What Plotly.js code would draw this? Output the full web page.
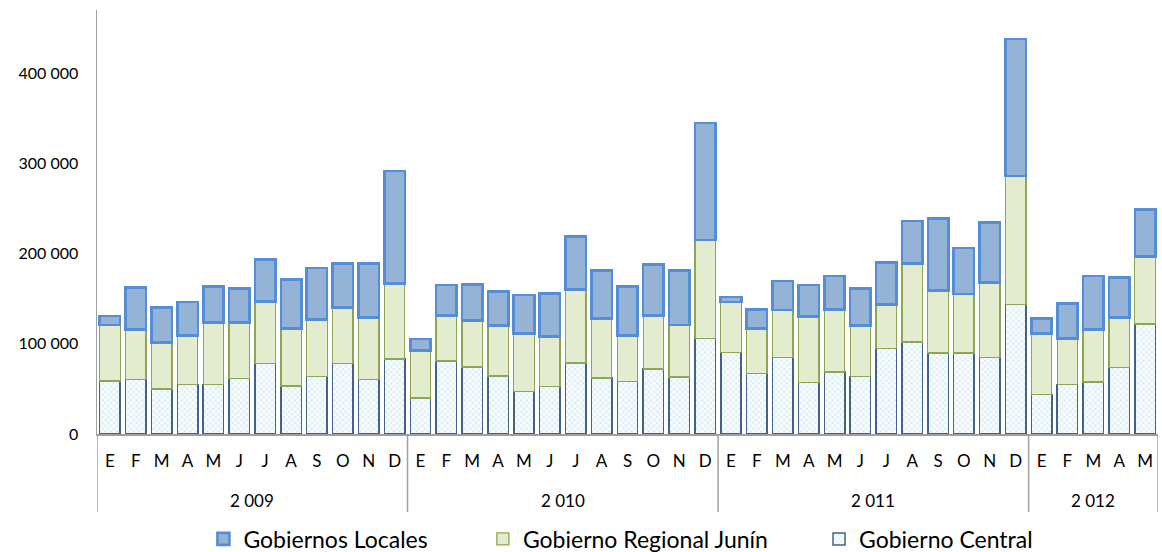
<!DOCTYPE html>
<html>
<head>
<meta charset="utf-8">
<script src="https://cdn.plot.ly/plotly-3.0.1.min.js"></script>
<style>html,body{margin:0;padding:0;background:#fff;}#chart{width:1162px;height:552px;}</style>
</head>
<body>
<div id="chart"></div>
<script>
// ---- data ----
const yearLabels = ['2 009', '2 010', '2 011', '2 012'];
const yearCounts = [12, 12, 12, 5];
const monthLetters = ['E','F','M','A','M','J','J','A','S','O','N','D'];

const gobiernoCentral = [
  58700, 60600, 49900, 55000, 55000, 61300, 78300, 53200, 63500, 78300, 60600, 83100,
  39900, 80900, 74200, 64300, 47300, 52800, 78700, 62100, 58000, 72000, 63200, 105600,
  90500, 67200, 84600, 57300, 68700, 63900, 95000, 101900, 89800, 89800, 84600, 143700,
  44000, 55000, 57600, 73500, 121900
];
const gobiernoRegional = [
  62100, 55000, 51300, 54300, 68700, 62000, 68300, 63900, 63200, 62100, 68300, 83900,
  52400, 50600, 51400, 55700, 64300, 55000, 81600, 66100, 51300, 59500, 57600, 109400,
  55800, 49900, 52800, 73100, 69500, 56500, 48700, 87200, 69000, 65300, 83500, 142200,
  67600, 51000, 58400, 55400, 74600
];
const gobiernosLocales = [
  9900, 46500, 39200, 37000, 39500, 38100, 46600, 54300, 57200, 48700, 59800, 124400,
  13000, 33600, 40300, 37700, 42400, 48100, 58300, 52800, 53900, 56100, 60200, 129600,
  5500, 21100, 32100, 34700, 36900, 41000, 46500, 46900, 80200, 51000, 66500, 151800,
  16600, 38800, 59100, 44700, 52500
];

// ---- categories (unique keys, month letters as tick text) ----
const keys = [], ticks = [];
yearCounts.forEach((n, yi) => {
  for (let m = 0; m < n; m++) { keys.push(yearLabels[yi] + '-' + (m + 1)); ticks.push(monthLetters[m]); }
});

const font = 'Lato, Open Sans, sans-serif';
const traces = [
  {
    type: 'bar', name: 'Gobierno Central', x: keys, y: gobiernoCentral, legend: 'legend3',
    marker: {
      color: '#ffffff',
      pattern: { shape: 'x', fgcolor: '#BBDCEB', bgcolor: '#FAFDFE', size: 4, solidity: 0.25 },
      line: { color: '#45618A', width: 1.5 }
    },
    hoverinfo: 'y+name'
  },
  {
    type: 'bar', name: 'Gobierno Regional Junín', x: keys, y: gobiernoRegional, legend: 'legend2',
    marker: { color: '#E4ECD0', line: { color: '#8CA653', width: 1.3 } },
    hoverinfo: 'y+name'
  },
  {
    type: 'bar', name: 'Gobiernos Locales', x: keys, y: gobiernosLocales, legend: 'legend',
    marker: { color: '#95B3D7', line: { color: '#558ED5', width: 2.6 } },
    hoverinfo: 'y+name'
  }
];

// year labels + dividers
const annotations = [], shapes = [];
let start = 0;
shapes.push({ type: 'line', xref: 'x', yref: 'paper', x0: -0.5, x1: -0.5, y0: 0, y1: -0.184, line: { color: '#A0A0A0', width: 1.5 } });
yearCounts.forEach((n, yi) => {
  const end = start + n - 1;
  annotations.push({ xref: 'x', yref: 'paper', x: (start + end) / 2, y: -0.156, text: yearLabels[yi],
    showarrow: false, xanchor: 'center', yanchor: 'middle', font: { family: font, size: 17, color: '#000' } });
  shapes.push({ type: 'line', xref: 'x', yref: 'paper', x0: end + 0.5, x1: end + 0.5, y0: 0, y1: -0.184, line: { color: '#A0A0A0', width: 1.5 } });
  start += n;
});

function leg(x) {
  return { orientation: 'h', x: x, xanchor: 'left', y: -0.2475, yanchor: 'middle',
    font: { family: font, size: 23, color: '#000' }, itemclick: false, bgcolor: 'rgba(0,0,0,0)' };
}

const layout = {
  width: 1162, height: 552,
  margin: { l: 97, r: 4, t: 10, b: 118, autoexpand: false },
  paper_bgcolor: '#fff', plot_bgcolor: '#fff',
  barmode: 'stack', bargap: 0.21,
  separators: '. ',
  font: { family: font, size: 17, color: '#000' },
  showlegend: true,
  legend: leg(0.1003),
  legend2: leg(0.3637),
  legend3: leg(0.6805),
  xaxis: {
    type: 'category', tickvals: keys, ticktext: ticks,
    range: [-0.5, keys.length - 0.5],
    showline: true, linecolor: '#A0A0A0', linewidth: 1.5,
    ticks: '', showgrid: false, zeroline: false,
    ticklabelstandoff: 11,
    tickfont: { family: font, size: 17, color: '#000' }
  },
  yaxis: {
    range: [0, 470000], tickvals: [0, 100000, 200000, 300000, 400000],
    tickformat: ',d',
    showline: true, linecolor: '#A0A0A0', linewidth: 1.5,
    ticks: '', showgrid: false, zeroline: false,
    ticklabelstandoff: 14,
    tickfont: { family: font, size: 16, color: '#000' }
  },
  annotations: annotations,
  shapes: shapes
};

Plotly.newPlot('chart', traces, layout, { displayModeBar: false, staticPlot: true });
</script>
</body>
</html>
